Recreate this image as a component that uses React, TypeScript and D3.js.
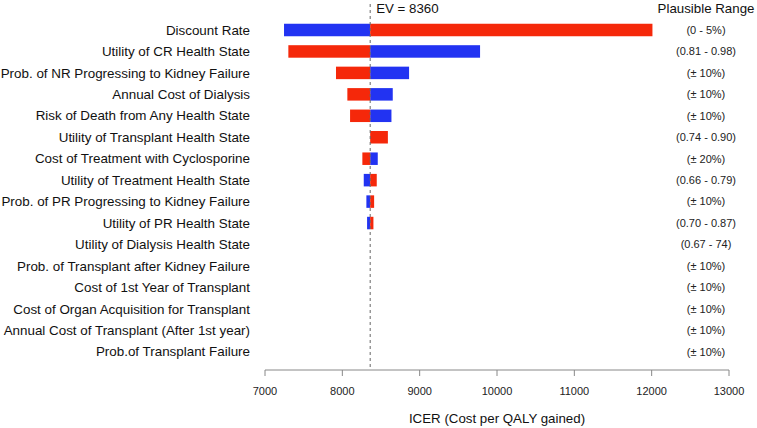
import React from "react";
import * as d3 from "d3";

const parameters = [
  "Discount Rate",
  "Utility of CR Health State",
  "Prob. of NR Progressing to Kidney Failure",
  "Annual Cost of Dialysis",
  "Risk of Death from Any Health State",
  "Utility of Transplant Health State",
  "Cost of Treatment with Cyclosporine",
  "Utility of Treatment Health State",
  "Prob. of PR Progressing to Kidney Failure",
  "Utility of PR Health State",
  "Utility of Dialysis Health State",
  "Prob. of Transplant after Kidney Failure",
  "Cost of 1st Year of Transplant",
  "Cost of Organ Acquisition for Transplant",
  "Annual Cost of Transplant (After 1st year)",
  "Prob.of Transplant Failure",
];

const blueValues = [7246, 9781, 8863, 8652, 8635, 8360, 8458, 8277, 8311, 8320, 8360, 8360, 8360, 8360, 8360, 8360];
const redValues = [12010, 7302, 7918, 8065, 8100, 8589, 8259, 8445, 8411, 8402, 8360, 8360, 8360, 8360, 8360, 8360];

const plausibleRanges = [
  "(0 - 5%)",
  "(0.81 - 0.98)",
  "(± 10%)",
  "(± 10%)",
  "(± 10%)",
  "(0.74 - 0.90)",
  "(± 20%)",
  "(0.66 - 0.79)",
  "(± 10%)",
  "(0.70 - 0.87)",
  "(0.67 - 74)",
  "(± 10%)",
  "(± 10%)",
  "(± 10%)",
  "(± 10%)",
  "(± 10%)",
];

const xTicks = [7000, 8000, 9000, 10000, 11000, 12000, 13000];
const EV = 8360;

const BLUE = "#2233f2";
const RED = "#f5280a";
const FONT = "'Liberation Sans', Arial, Helvetica, sans-serif";

export default function App() {
  const W = 757;
  const H = 428;
  const x = d3.scaleLinear().domain([7000, 13000]).range([265, 729]);
  const y = d3.scalePoint<string>().domain(parameters).range([30, 351.75]);
  const barH = 12.5;
  const axisY = 370;
  const evX = x(EV);

  const bar = (a: number, b: number) => {
    const x0 = x(Math.min(a, b));
    const x1 = x(Math.max(a, b));
    return { x: x0, w: x1 - x0 };
  };

  return (
    <svg
      width={W}
      height={H}
      style={{ position: "absolute", left: 0, top: 0, background: "#fff" }}
      fontFamily={FONT}
    >
      {parameters.map((p, i) => {
        const cy = y(p) as number;
        const b = bar(EV, blueValues[i]);
        const r = bar(EV, redValues[i]);
        return (
          <g key={p}>
            {b.w > 0 && (
              <rect x={b.x} y={cy - barH / 2} width={b.w} height={barH} fill={BLUE} />
            )}
            {r.w > 0 && (
              <rect x={r.x} y={cy - barH / 2} width={r.w} height={barH} fill={RED} />
            )}
            <text x={250} y={cy} dy="0.35em" textAnchor="end" fontSize={13.4} fill="#111">
              {p}
            </text>
            <text x={706} y={cy} dy="0.35em" textAnchor="middle" fontSize={11} fill="#222">
              {plausibleRanges[i]}
            </text>
          </g>
        );
      })}

      <line
        x1={evX}
        x2={evX}
        y1={4}
        y2={axisY}
        stroke="#666"
        strokeWidth={1}
        strokeDasharray="3,3"
      />
      <text x={evX + 6} y={8} dy="0.35em" fontSize={13.3} fill="#111">
        EV = {EV}
      </text>
      <text x={706} y={8} dy="0.35em" textAnchor="middle" fontSize={13.3} fill="#111">
        Plausible Range
      </text>

      <line x1={x(7000)} x2={x(13000)} y1={axisY} y2={axisY} stroke="#888" strokeWidth={1} />
      {xTicks.map((t) => (
        <g key={t}>
          <line x1={x(t)} x2={x(t)} y1={axisY} y2={axisY + 6} stroke="#888" strokeWidth={1} />
          <text x={x(t)} y={391} dy="0.35em" textAnchor="middle" fontSize={11} fill="#222">
            {t}
          </text>
        </g>
      ))}
      <text
        x={(x(7000) + x(13000)) / 2}
        y={418}
        dy="0.35em"
        textAnchor="middle"
        fontSize={13.3}
        fill="#111"
      >
        ICER (Cost per QALY gained)
      </text>
    </svg>
  );
}
